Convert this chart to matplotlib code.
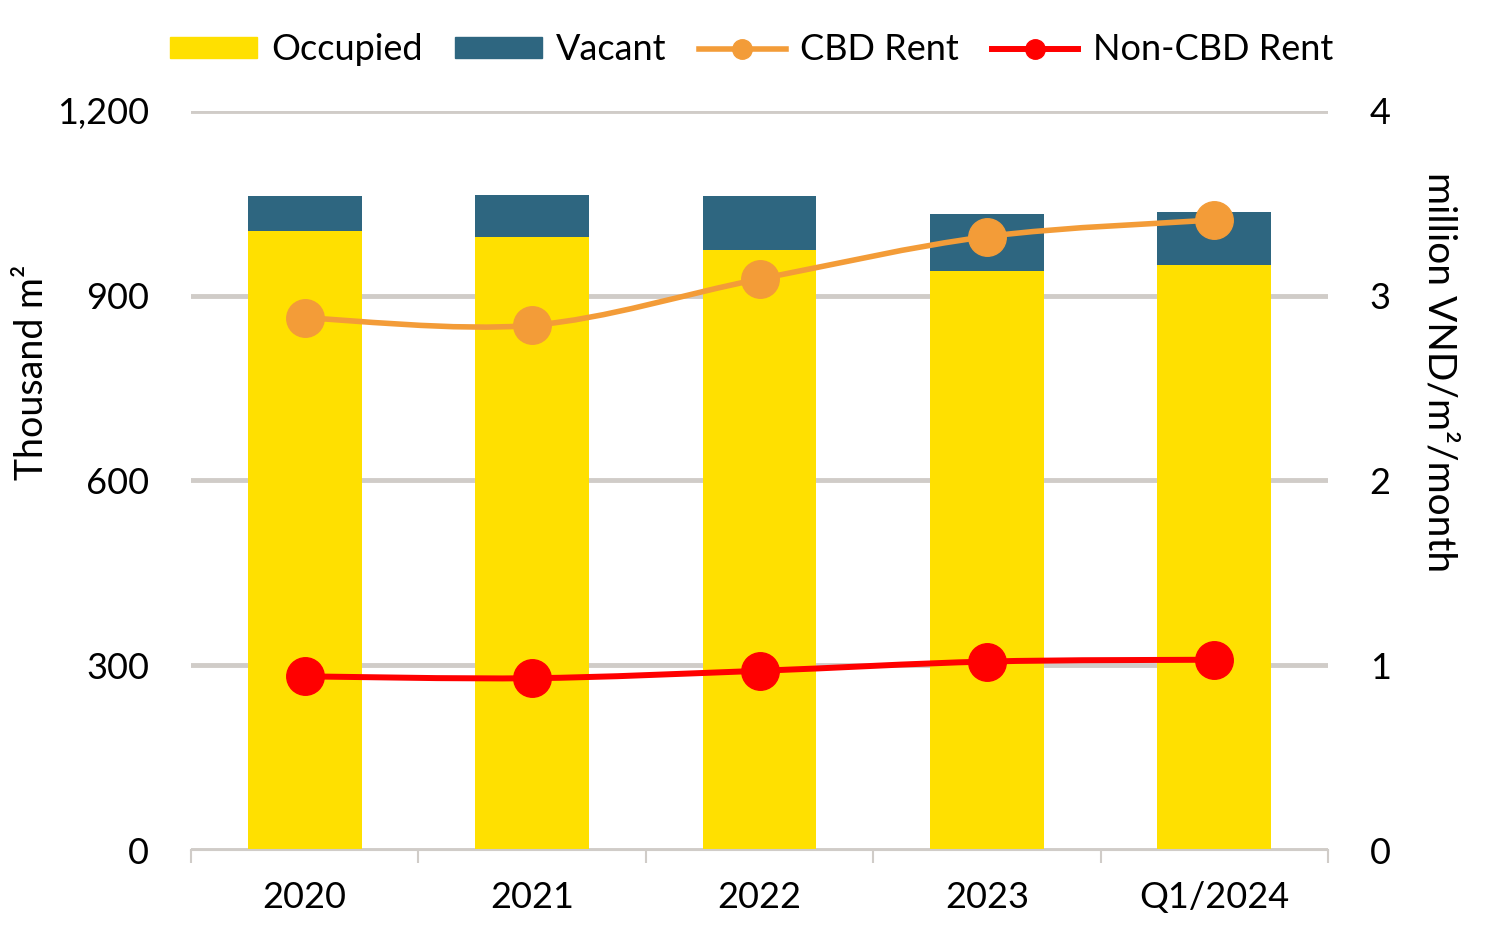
import numpy as np
import matplotlib
matplotlib.use('Agg')
import matplotlib.pyplot as plt
from matplotlib.path import Path
from matplotlib.patches import PathPatch, Patch
from matplotlib.lines import Line2D
from matplotlib.ticker import FuncFormatter

plt.rcParams['font.family'] = ['Lato', 'DejaVu Sans']

# data
categories = ['2020', '2021', '2022', '2023', 'Q1/2024']
occupied = [1005, 995, 974, 940, 950]          # thousand m2
vacant = [57, 69, 88, 93, 86]                   # thousand m2
cbd_rent = [2.88, 2.84, 3.09, 3.32, 3.41]       # million VND/m2/month
noncbd_rent = [0.94, 0.93, 0.97, 1.02, 1.03]

YELLOW = '#FFE000'
TEAL = '#2E6680'
ORANGE = '#F39C38'
RED = '#FF0000'
GRID = '#D0CCC8'
FS = 26

fig = plt.figure(figsize=(14.85, 9.4), dpi=100)
ax = fig.add_axes([0.1286, 0.0957, 0.7657, 0.7863])
ax2 = ax.twinx()

x = np.arange(len(categories))
ax.bar(x, occupied, width=0.5, color=YELLOW, zorder=2)
ax.bar(x, vacant, width=0.5, bottom=occupied, color=TEAL, zorder=2)

ax.set_ylim(0, 1200)
ax.set_yticks([0, 300, 600, 900, 1200])
ax.yaxis.set_major_formatter(FuncFormatter(lambda v, p: f'{int(v):,}'))
ax.grid(axis='y', color=GRID, linewidth=3.5, zorder=0)
ax.set_axisbelow(True)
ax.set_xlim(-0.5, len(categories) - 0.5)
ax.set_xticks(x)
ax.set_xticklabels(categories)
ax.set_xticks(np.arange(len(categories) + 1) - 0.5, minor=True)
ax.tick_params(axis='x', which='major', length=0, pad=22, labelsize=FS)
ax.tick_params(axis='x', which='minor', length=9, width=1.5, color=GRID)
ax.tick_params(axis='y', length=0, pad=30, labelsize=FS)
for s in ['top', 'right', 'left']:
    ax.spines[s].set_visible(False)
ax.spines['bottom'].set_color(GRID)
ax.spines['bottom'].set_linewidth(1.5)
ax.set_ylabel('Thousand m²', fontsize=27, va='center')
ax.yaxis.set_label_coords(-0.14, 0.647)


def smooth(ax_, xs, ys, color, lw):
    # Catmull-Rom style bezier like Excel's smoothed line
    pts = np.column_stack([xs, ys]).astype(float)
    n = len(pts)
    verts = [pts[0]]
    codes = [Path.MOVETO]
    for i in range(n - 1):
        p0 = pts[i - 1] if i > 0 else pts[i]
        p1 = pts[i]
        p2 = pts[i + 1]
        p3 = pts[i + 2] if i + 2 < n else pts[i + 1]
        c1 = p1 + (p2 - p0) / 6
        c2 = p2 - (p3 - p1) / 6
        verts += [c1, c2, p2]
        codes += [Path.CURVE4] * 3
    ax_.add_patch(PathPatch(Path(verts, codes), facecolor='none', edgecolor=color,
                            linewidth=lw, zorder=3, capstyle='round'))


smooth(ax2, x, cbd_rent, ORANGE, 4)
smooth(ax2, x, noncbd_rent, RED, 4.3)
ax2.plot(x, cbd_rent, 'o', color=ORANGE, markersize=27, zorder=4)
ax2.plot(x, noncbd_rent, 'o', color=RED, markersize=27, zorder=4)

ax2.set_ylim(0, 4)
ax2.set_yticks([0, 1, 2, 3, 4])
ax2.tick_params(axis='y', length=0, pad=30, labelsize=FS)
for s in ['top', 'right', 'left', 'bottom']:
    ax2.spines[s].set_visible(False)
ax2.set_ylabel('million VND/m²/month', fontsize=28, rotation=270, va='center')
ax2.yaxis.set_label_coords(1.098, 0.647)

handles = [
    Patch(color=YELLOW, label='Occupied'),
    Patch(color=TEAL, label='Vacant'),
    Line2D([], [], color=ORANGE, lw=4, marker='o', markersize=14, label='CBD Rent'),
    Line2D([], [], color=RED, lw=4.3, marker='o', markersize=14, label='Non-CBD Rent'),
]
fig.legend(handles=handles, loc='center', bbox_to_anchor=(0.506, 0.947), ncol=4,
           frameon=False, fontsize=FS, handlelength=2.4, handleheight=0.5,
           handletextpad=0.4, columnspacing=0.9)

fig.savefig('out.png', dpi=100)
